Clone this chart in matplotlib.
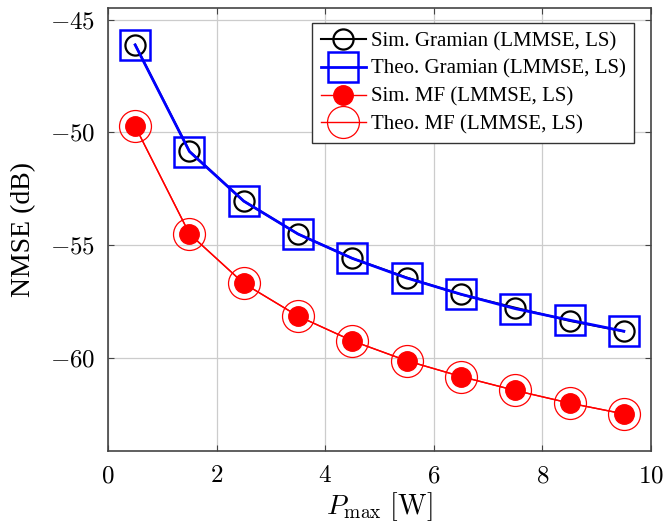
import matplotlib
matplotlib.use("Agg")
import matplotlib.pyplot as plt

plt.rcParams['font.family'] = ['Liberation Serif', 'DejaVu Serif']
plt.rcParams['mathtext.fontset'] = 'cm'

p_max = [0.5, 1.5, 2.5, 3.5, 4.5, 5.5, 6.5, 7.5, 8.5, 9.5]
sim_gramian = [-46.11, -50.84, -53.05, -54.51, -55.59, -56.44, -57.19, -57.78, -58.36, -58.83]
theo_gramian = [-46.12, -50.85, -53.05, -54.51, -55.59, -56.46, -57.18, -57.82, -58.33, -58.82]
sim_mf = [-49.73, -54.50, -56.70, -58.15, -59.25, -60.13, -60.83, -61.45, -62.01, -62.49]
theo_mf = [-49.73, -54.50, -56.70, -58.15, -59.25, -60.13, -60.83, -61.45, -62.01, -62.49]

x_ticks = [0, 2, 4, 6, 8, 10]
y_ticks = [-60, -55, -50, -45]

labels = ["Sim. Gramian (LMMSE, LS)", "Theo. Gramian (LMMSE, LS)",
          "Sim. MF (LMMSE, LS)", "Theo. MF (LMMSE, LS)"]

fig = plt.figure(figsize=(6.65, 5.23), dpi=100)
ax = fig.add_axes([0.1624, 0.137, 0.8166, 0.847])

ax.plot(p_max, sim_gramian, color='black', lw=1.5, marker='o', ms=14.5,
        mfc='none', mec='black', mew=1.6, label=labels[0], zorder=3)
ax.plot(p_max, theo_gramian, color='#0000ff', lw=2.0, marker='s', ms=22,
        mfc='none', mec='#0000ff', mew=1.8, label=labels[1], zorder=4)
ax.plot(p_max, sim_mf, color='#ff0000', lw=1.0, marker='o', ms=14,
        mfc='#ff0000', mec='#ff0000', mew=1.0, label=labels[2], zorder=5)
ax.plot(p_max, theo_mf, color='#ff0000', lw=1.0, marker='o', ms=23,
        mfc='none', mec='#ff0000', mew=0.9, label=labels[3], zorder=6)

ax.set_xlim(0, 10)
ax.set_ylim(-64.15, -44.5)
ax.set_xticks(x_ticks)
ax.set_yticks(y_ticks)
ax.set_xticklabels([f"${t}$" for t in x_ticks])
ax.set_yticklabels([f"${t}$" for t in y_ticks])
ax.grid(True, color='#cccccc', lw=0.9)
ax.set_axisbelow(True)
ax.tick_params(direction='in', top=True, right=True, length=4, width=0.8,
               colors='#444444', labelcolor='black', labelsize=18)
ax.tick_params(axis='x', pad=10)
ax.tick_params(axis='y', pad=9)
for s in ax.spines.values():
    s.set_color('#444444')
    s.set_linewidth(1.2)

ax.set_xlabel("$P_{\\max}\\ [\\mathrm{W}]$", fontsize=20, labelpad=2)
ax.set_ylabel("NMSE (dB)", fontsize=20, labelpad=10)

leg = ax.legend(loc='upper right', bbox_to_anchor=(0.9687, 0.9668),
                fontsize=15, frameon=True, fancybox=False,
                edgecolor='#333333', framealpha=1.0, borderpad=0.4,
                labelspacing=0.4, handlelength=2.15, handletextpad=0.25,
                borderaxespad=0.0)
leg.get_frame().set_linewidth(1.0)

fig.savefig("out.png", dpi=100)
